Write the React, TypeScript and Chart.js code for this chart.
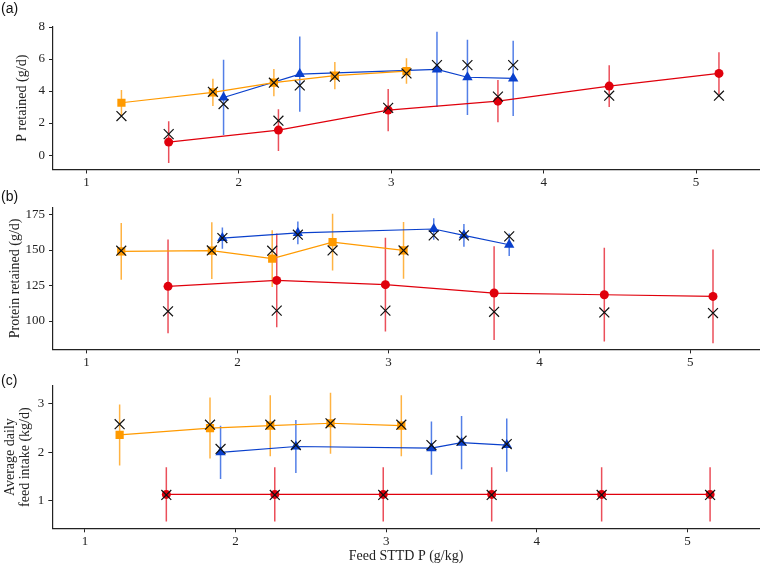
import React, { useEffect, useRef } from 'react';
import { Chart, registerables } from 'chart.js';

Chart.register(...registerables);

// ---------- data ----------
const xTicks = [1, 2, 3, 4, 5];
const pTicks = [0, 2, 4, 6, 8];
const proteinTicks = [100, 125, 150, 175];
const adfiTicks = [1, 2, 3];

const orangeX = [1.23, 1.83, 2.23, 2.63, 3.1];
const blueX = [1.9, 2.4, 3.3, 3.5, 3.8];
const redX = [1.54, 2.26, 2.98, 3.7, 4.43, 5.15];

// (a) P retained (g/d)
const pOrange = [3.27, 3.92, 4.52, 4.96, 5.25];
const pOrangeSE = [0.8, 0.85, 0.85, 0.85, 0.8];
const pOrangePred = [2.44, 3.95, 4.52, 4.9, 5.1];
const pBlue = [3.6, 5.06, 5.35, 4.86, 4.79];
const pBlueSE = [2.35, 2.35, 2.35, 2.35, 2.35];
const pBluePred = [3.19, 4.35, 5.62, 5.62, 5.62];
const pRed = [0.81, 1.56, 2.81, 3.37, 4.31, 5.1];
const pRedSE = [1.3, 1.3, 1.32, 1.32, 1.3, 1.32];
const pRedPred = [1.31, 2.15, 2.95, 3.65, 3.71, 3.71];

// (b) Protein retained (g/d)
const protOrange = [149.0, 149.5, 143.9, 155.6, 149.7];
const protOrangeSE = [20, 20, 20, 20, 20];
const protOrangePred = [149.5, 149.7, 149.5, 149.7, 149.7];
const protBlue = [158.4, 162.0, 164.8, 160.3, 153.7];
const protBlueSE = [7.5, 8, 7.5, 8, 8];
const protBluePred = [158.4, 160.8, 160.3, 160.3, 159.6];
const protRed = [124.4, 128.6, 125.6, 119.7, 118.5, 117.3];
const protRedSE = [33, 33, 33, 33, 33, 33];
const protRedPred = [106.8, 107.3, 107.3, 106.5, 106.0, 105.6];

// (c) Average daily feed intake (kg/d)
const adfiOrange = [2.36, 2.5, 2.55, 2.6, 2.55];
const adfiOrangeSE = [0.63, 0.63, 0.63, 0.63, 0.63];
const adfiOrangePred = [2.58, 2.57, 2.57, 2.6, 2.57];
const adfiBlue = [2.0, 2.12, 2.085, 2.2, 2.15];
const adfiBlueSE = [0.55, 0.55, 0.55, 0.55, 0.55];
const adfiBluePred = [2.07, 2.15, 2.15, 2.24, 2.17];
const adfiRed = [1.13, 1.13, 1.13, 1.13, 1.13, 1.13];
const adfiRedSE = [0.56, 0.56, 0.56, 0.56, 0.56, 0.56];
const adfiRedPred = [1.12, 1.12, 1.12, 1.12, 1.12, 1.12];

// ---------- styles ----------
const SERIF = "'Liberation Serif', 'Times New Roman', Times, serif";
const SANS = "'Liberation Sans', Arial, Helvetica, sans-serif";
const ORANGE = '#FF9A00';
const ORANGE_ERR = 'rgba(255,160,20,0.8)';
const BLUE = '#0A40CC';
const BLUE_ERR = 'rgba(40,95,225,0.8)';
const RED = '#E0000C';
const RED_ERR = 'rgba(228,20,35,0.75)';
const AXIS = '#222222';

type Series = {
  x: number[]; y: number[]; se: number[]; pred: number[];
  color: string; err: string; style: string; radius: number;
};

function makeDatasets(series: Series[]) {
  const ds: any[] = [];
  series.forEach((s) => {
    ds.push({
      type: 'line',
      data: s.x.flatMap((x, i) => [
        { x, y: s.y[i] - s.se[i] },
        { x, y: s.y[i] + s.se[i] },
        { x, y: null },
      ]),
      borderColor: s.err,
      borderWidth: 1.5,
      pointRadius: 0,
      spanGaps: false,
      order: 2,
    });
    ds.push({
      type: 'line',
      data: s.x.map((x, i) => ({ x, y: s.y[i] })),
      borderColor: s.color,
      backgroundColor: s.color,
      borderWidth: 1.2,
      pointStyle: s.style,
      pointRadius: s.radius,
      pointBackgroundColor: s.color,
      pointBorderColor: s.color,
      pointBorderWidth: 0,
      tension: 0,
      order: 1,
    });
    ds.push({
      type: 'line',
      data: s.x.map((x, i) => ({ x, y: s.pred[i] })),
      showLine: false,
      pointStyle: 'crossRot',
      pointRadius: 7,
      pointBorderColor: '#111111',
      pointBackgroundColor: 'rgba(0,0,0,0)',
      pointBorderWidth: 1.2,
      order: 0,
    });
  });
  return ds;
}

type Panel = {
  label: string; labelY: number;
  series: Series[];
  yMin: number; yMax: number; yTicks: number[]; yTitle: string | string[];
  yTitlePad: number; yTitleLineHeight: number;
  xMin: number; xMax: number; xTitle?: string;
  padTop: number; padRight: number; padBottom: number;
  yWidth: number; xHeight: number;
};

const panels: Panel[] = [
  {
    label: '(a)', labelY: 9,
    series: [
      { x: orangeX, y: pOrange, se: pOrangeSE, pred: pOrangePred, color: ORANGE, err: ORANGE_ERR, style: 'rect', radius: 5.8 },
      { x: blueX, y: pBlue, se: pBlueSE, pred: pBluePred, color: BLUE, err: BLUE_ERR, style: 'triangle', radius: 6 },
      { x: redX, y: pRed, se: pRedSE, pred: pRedPred, color: RED, err: RED_ERR, style: 'circle', radius: 4.5 },
    ],
    yMin: -0.9, yMax: 8, yTicks: pTicks, yTitle: 'P retained (g/d)', yTitlePad: 13.6, yTitleLineHeight: 1.2,
    xMin: 0.781, xMax: 5.418,
    padTop: 27, padRight: 1, padBottom: 565 - 169.5 - 20, yWidth: 53, xHeight: 20,
  },
  {
    label: '(b)', labelY: 197.5,
    series: [
      { x: orangeX, y: protOrange, se: protOrangeSE, pred: protOrangePred, color: ORANGE, err: ORANGE_ERR, style: 'rect', radius: 5.8 },
      { x: blueX, y: protBlue, se: protBlueSE, pred: protBluePred, color: BLUE, err: BLUE_ERR, style: 'triangle', radius: 6 },
      { x: redX, y: protRed, se: protRedSE, pred: protRedPred, color: RED, err: RED_ERR, style: 'circle', radius: 4.5 },
    ],
    yMin: 80, yMax: 180, yTicks: proteinTicks, yTitle: 'Protein retained (g/d)', yTitlePad: 6.6, yTitleLineHeight: 1.2,
    xMin: 0.778, xMax: 5.46,
    padTop: 207.4, padRight: 3, padBottom: 565 - 349.4 - 20, yWidth: 53, xHeight: 20,
  },
  {
    label: '(c)', labelY: 381,
    series: [
      { x: orangeX, y: adfiOrange, se: adfiOrangeSE, pred: adfiOrangePred, color: ORANGE, err: ORANGE_ERR, style: 'rect', radius: 5.8 },
      { x: blueX, y: adfiBlue, se: adfiBlueSE, pred: adfiBluePred, color: BLUE, err: BLUE_ERR, style: 'triangle', radius: 6 },
      { x: redX, y: adfiRed, se: adfiRedSE, pred: adfiRedPred, color: RED, err: RED_ERR, style: 'circle', radius: 4.5 },
    ],
    yMin: 0.43, yMax: 3.37, yTicks: adfiTicks, yTitle: ['Average daily', 'feed intake (kg/d)'], yTitlePad: 2.3, yTitleLineHeight: 1.1,
    xMin: 0.783, xMax: 5.48, xTitle: 'Feed STTD P (g/kg)',
    padTop: 386, padRight: 6.3, padBottom: 0, yWidth: 52.3, xHeight: 565 - 528.3,
  },
];

const panelLabelPlugin = {
  id: 'panelLabel',
  afterDraw(chart: any, _args: any, opts: any) {
    const ctx = chart.ctx;
    ctx.save();
    ctx.font = `14px ${SANS}`;
    ctx.fillStyle = '#111';
    ctx.textBaseline = 'middle';
    ctx.textAlign = 'left';
    ctx.fillText(opts.text, 1, opts.y);
    ctx.restore();
  },
};

function PanelChart({ p }: { p: Panel }) {
  const ref = useRef<HTMLCanvasElement | null>(null);
  useEffect(() => {
    if (!ref.current) return;
    const chart = new Chart(ref.current, {
      type: 'line',
      data: { datasets: makeDatasets(p.series) },
      plugins: [panelLabelPlugin as any],
      options: {
        animation: false,
        responsive: false,
        events: [],
        layout: { padding: { top: p.padTop, left: 0, right: p.padRight, bottom: p.padBottom } },
        plugins: {
          legend: { display: false },
          tooltip: { enabled: false },
          panelLabel: { text: p.label, y: p.labelY },
        } as any,
        scales: {
          x: {
            type: 'linear',
            min: p.xMin,
            max: p.xMax,
            afterBuildTicks: (scale: any) => { scale.ticks = xTicks.map((v) => ({ value: v })); },
            afterFit: (scale: any) => { scale.height = p.xHeight; scale.paddingLeft = 0; scale.paddingRight = 0; },
            grid: { drawOnChartArea: false, drawTicks: true, tickLength: 4, color: AXIS, lineWidth: 1 },
            border: { display: true, color: AXIS, width: 1.2 },
            ticks: { color: '#222', padding: 1, font: { family: SERIF, size: 13 }, maxRotation: 0, autoSkip: false },
            title: {
              display: !!p.xTitle,
              text: p.xTitle || '',
              color: '#222',
              font: { family: SERIF, size: 14 },
              padding: { top: 0, bottom: 0 },
            },
          },
          y: {
            type: 'linear',
            min: p.yMin,
            max: p.yMax,
            afterBuildTicks: (scale: any) => { scale.ticks = p.yTicks.map((v) => ({ value: v })); },
            afterFit: (scale: any) => { scale.width = p.yWidth; scale.paddingTop = 0; scale.paddingBottom = 0; },
            grid: { drawOnChartArea: false, drawTicks: true, tickLength: 4, color: AXIS, lineWidth: 1 },
            border: { display: true, color: AXIS, width: 1.2 },
            ticks: { color: '#222', padding: 4, font: { family: SERIF, size: 13 }, autoSkip: false },
            title: {
              display: true,
              text: p.yTitle as any,
              color: '#222',
              font: { family: SERIF, size: 14, lineHeight: p.yTitleLineHeight },
              padding: { top: p.yTitlePad, bottom: 0 },
            },
          },
        },
      } as any,
    });
    return () => chart.destroy();
  }, [p]);
  return (
    <canvas
      ref={ref}
      width={768}
      height={565}
      style={{ position: 'absolute', left: 0, top: 0, width: 768, height: 565 }}
    />
  );
}

export default function App() {
  return (
    <div style={{ position: 'fixed', left: 0, top: 0, width: 768, height: 565, background: '#fff', overflow: 'hidden' }}>
      {panels.map((p) => (
        <PanelChart key={p.label} p={p} />
      ))}
    </div>
  );
}
